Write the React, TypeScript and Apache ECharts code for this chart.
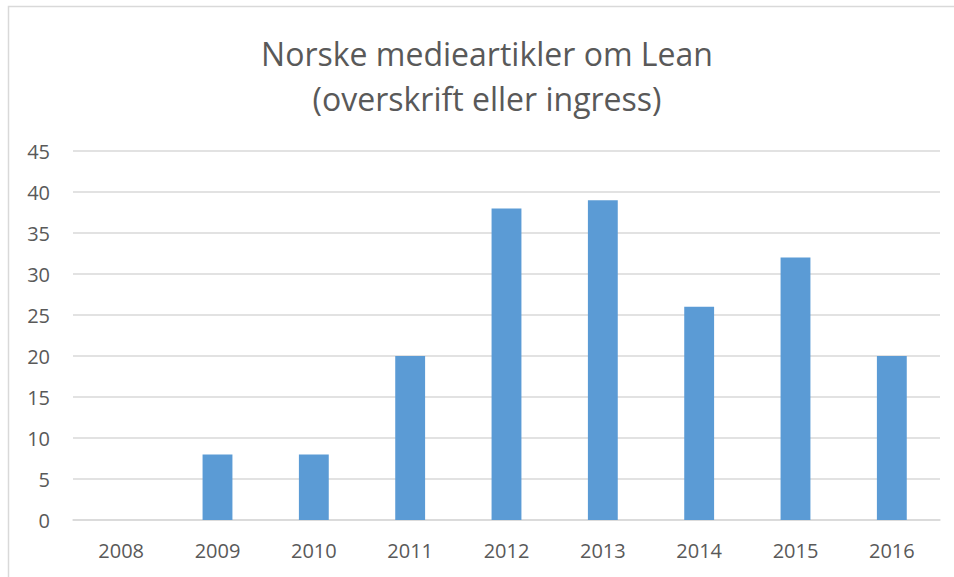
import React, { useEffect, useRef } from "react";
import * as echarts from "echarts";

const categories = ["2008", "2009", "2010", "2011", "2012", "2013", "2014", "2015", "2016"];
const values = [0, 8, 8, 20, 38, 39, 26, 32, 20];
const titleLines = ["Norske medieartikler om Lean", "(overskrift eller ingress)"];

export default function App() {
  const ref = useRef<HTMLDivElement>(null);
  useEffect(() => {
    if (!ref.current) return;
    const chart = echarts.init(ref.current, undefined, { renderer: "svg" });
    const font = "'Open Sans', sans-serif";
    chart.setOption({
      animation: false,
      backgroundColor: "#ffffff",
      textStyle: { fontFamily: font },
      graphic: [
        {
          type: "rect",
          shape: { x: 8.5, y: 6.5, width: 1000, height: 700 },
          style: { fill: "none", stroke: "#d9d9d9", lineWidth: 1.5 },
          silent: true,
        },
        ...titleLines.map((t, i) => ({
          type: "text",
          x: 487,
          y: 53 + i * 45,
          silent: true,
          style: {
            text: t,
            fontFamily: font,
            fontSize: 32,
            fill: "#595959",
            textAlign: "center",
            textVerticalAlign: "middle",
          },
        })),
      ],
      grid: { left: 73, right: 14, top: 151, bottom: 57, containLabel: false },
      xAxis: {
        type: "category",
        data: categories,
        axisLine: { show: true, lineStyle: { color: "#d9d9d9", width: 1.5 } },
        axisTick: { show: false },
        axisLabel: { color: "#595959", fontSize: 20, fontFamily: font, margin: 20 },
      },
      yAxis: {
        type: "value",
        min: 0,
        max: 45,
        interval: 5,
        axisLine: { show: false },
        axisTick: { show: false },
        splitLine: { lineStyle: { color: "#d9d9d9", width: 1.5 } },
        axisLabel: { color: "#595959", fontSize: 20, fontFamily: font, margin: 23 },
      },
      series: [
        {
          type: "bar",
          data: values,
          barWidth: "31%",
          itemStyle: { color: "#5b9bd5" },
        },
      ],
    });
    return () => chart.dispose();
  }, []);
  return <div ref={ref} style={{ position: "fixed", left: 0, top: 0, width: 954, height: 577 }} />;
}
